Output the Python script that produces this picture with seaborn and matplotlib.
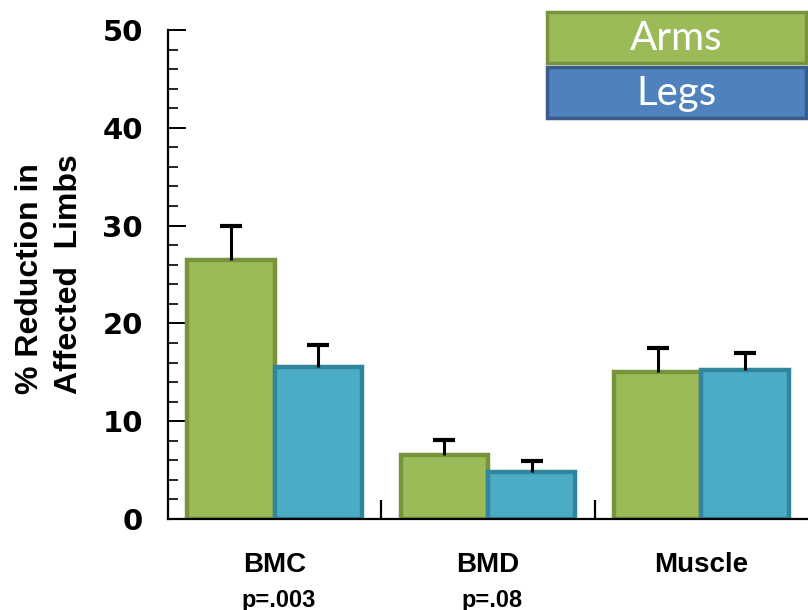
import matplotlib
matplotlib.use("Agg")
import matplotlib.pyplot as plt
from matplotlib.patches import Rectangle
from matplotlib.ticker import MultipleLocator
from matplotlib.transforms import blended_transform_factory
import numpy as np
import pandas as pd
import seaborn as sns

# Percent reduction in affected limbs, with upper error bars
sites = ["BMC", "BMD", "Muscle"]
p_values = ["p=.003", "p=.08", ""]
limbs = ["Arms", "Legs"]
arms = [26.5, 6.5, 15.0]
legs = [15.5, 4.8, 15.2]
arms_err = [3.5, 1.6, 2.5]
legs_err = [2.3, 1.1, 1.8]

fill_colors = {"Arms": "#9BBB59", "Legs": "#4BACC6"}
edge_colors = {"Arms": "#77933C", "Legs": "#31859C"}
legend_fill = {"Arms": "#9BBB59", "Legs": "#4F81BD"}
legend_edge = {"Arms": "#77933C", "Legs": "#385D8A"}

df = pd.DataFrame({
    "site": sites * 2,
    "limb": ["Arms"] * 3 + ["Legs"] * 3,
    "value": arms + legs,
})
errors = {"Arms": arms_err, "Legs": legs_err}

sns.set_theme(style="white")
plt.rcParams["font.family"] = ["Liberation Sans", "DejaVu Sans"]
for key in ("text.color", "axes.labelcolor", "xtick.color", "ytick.color"):
    plt.rcParams[key] = "black"

fig = plt.figure(figsize=(8.08, 6.10), dpi=100)
ax = fig.add_axes([168 / 808, 1 - 519 / 610, 1 - 168 / 808, (519 - 30) / 610])

sns.barplot(data=df, x="site", y="value", hue="limb", order=sites,
            hue_order=limbs, palette=fill_colors, width=0.82,
            legend=False, ax=ax, errorbar=None, saturation=1)

for limb, container in zip(limbs, ax.containers):
    xs, ys = [], []
    for bar in container:
        bar.set_edgecolor(edge_colors[limb])
        bar.set_linewidth(3.2)
        xs.append(bar.get_x() + bar.get_width() / 2)
        ys.append(bar.get_height())
    err = np.array(errors[limb])
    eb = ax.errorbar(xs, ys, yerr=[np.zeros_like(err), err], fmt="none",
                     ecolor="black", elinewidth=2.2, capsize=8, capthick=3,
                     zorder=1)
    # keep only the upper cap
    eb.lines[1][0].set_visible(False)

ax.set_ylim(0, 50)
ax.set_xlim(-0.5, 2.5)
ax.yaxis.set_major_locator(MultipleLocator(10))
ax.yaxis.set_minor_locator(MultipleLocator(2))
ax.tick_params(axis="y", which="major", direction="in", length=13,
               width=1.4, left=True, pad=18)
ax.tick_params(axis="y", which="minor", direction="in", length=7,
               width=1.2, left=True)
for lab in ax.get_yticklabels():
    lab.set_fontweight("bold")
    lab.set_fontsize(21)
    lab.set_family(["DejaVu Sans"])

# Group separators on the baseline
ax.set_xticks([0.5, 1.5], minor=True)
ax.tick_params(axis="x", which="minor", direction="in", length=14,
               width=1.6, bottom=True)
ax.set_xticks(range(len(sites)))
ax.set_xticklabels(sites, fontsize=20, fontweight="bold", va="center")
ax.tick_params(axis="x", which="major", length=0, pad=33)
xform = blended_transform_factory(ax.transData, ax.transAxes)
for i, p in enumerate(p_values):
    if p:
        ax.text(i + 0.02, -81 / 489, p, transform=xform, ha="center",
                va="center", fontsize=17, fontweight="bold")
ax.set_xlabel("")
ax.set_ylabel("% Reduction in\nAffected  Limbs", fontsize=23,
              fontweight="bold", linespacing=1.4, multialignment="left")
ax.yaxis.set_label_coords(-84 / 640, 0.5)

for side in ("top", "right"):
    ax.spines[side].set_visible(False)
for side in ("left", "bottom"):
    ax.spines[side].set_color("black")
    ax.spines[side].set_linewidth(1.6)

# Legend boxes in the upper right
box_x, box_w, box_h = 547, 259, 51
for i, limb in enumerate(limbs):
    top = 12 + i * 55
    rect = Rectangle((box_x / 808, 1 - (top + box_h) / 610),
                     box_w / 808, box_h / 610, transform=fig.transFigure,
                     facecolor=legend_fill[limb], edgecolor=legend_edge[limb],
                     linewidth=2.5, zorder=5)
    fig.patches.append(rect)
    fig.text((box_x + box_w / 2) / 808, 1 - (top + box_h / 2 + 1) / 610,
             limb, ha="center", va="center", color="white", fontsize=29,
             family=["Lato", "DejaVu Sans"], zorder=6)

fig.savefig("out.png", dpi=100)
